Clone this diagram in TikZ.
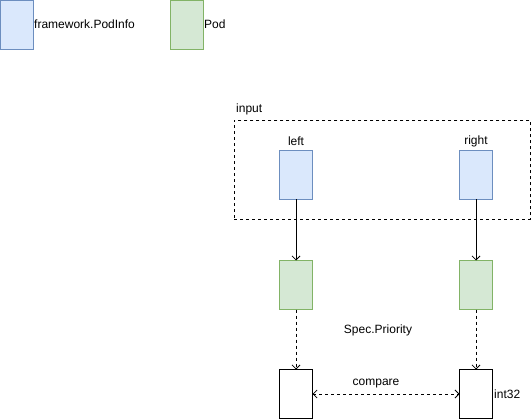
\documentclass[tikz,border=0pt]{standalone}
\usepackage{fontspec}
\setmainfont{Liberation Sans}
\usetikzlibrary{arrows.meta}
\definecolor{bluefill}{HTML}{DAE8FC}
\definecolor{blueline}{HTML}{6C8EBF}
\definecolor{greenfill}{HTML}{D5E8D4}
\definecolor{greenline}{HTML}{82B366}
\begin{document}
\begin{tikzpicture}[x=1pt,y=-1pt,
  font=\fontsize{12}{14}\selectfont,
  box/.style={draw, line width=1pt, minimum width=33pt, minimum height=49pt, inner sep=0pt, outer sep=0pt, anchor=north west},
  bluebox/.style={box, draw=blueline, fill=bluefill},
  greenbox/.style={box, draw=greenline, fill=greenfill},
  whitebox/.style={box, draw=black, fill=white},
  lbl/.style={inner sep=0pt, text=black},
  conn/.style={draw=black, line width=0.8pt, -{Straight Barb[length=4pt,width=8pt]}},
  dconn/.style={conn, dash pattern=on 3pt off 3pt}
]
\useasboundingbox (0,0) rectangle (532,419);
% legend
\node[bluebox] (lb) at (0.5,0.5) {};
\node[lbl, anchor=west] (lbt) at (34,24) {framework.PodInfo};
\node[greenbox] (lg) at (170.5,0.5) {};
\node[lbl, anchor=west] (lgt) at (204,24) {Pod};
% input group
\node[draw=black, line width=0.8pt, dash pattern=on 3pt off 3pt, minimum width=296pt, minimum height=99pt, inner sep=0pt, anchor=north west] (inp) at (234,120) {};
\node[lbl, anchor=west] (inpt) at (236,109) {input};
% boxes
\node[bluebox] (bl) at (279.5,150.5) {};
\node[bluebox] (br) at (459.5,150.5) {};
\node[lbl] (blt) at (296,141) {left};
\node[lbl] (brt) at (476,141) {right};
\node[greenbox] (gl) at (279.5,260.5) {};
\node[greenbox] (gr) at (459.5,260.5) {};
\node[whitebox] (wl) at (279.5,369.5) {};
\node[whitebox] (wr) at (459.5,369.5) {};
\node[lbl] (sp) at (378,330) {Spec.Priority};
\node[lbl] (cmp) at (376,384) {compare};
\node[lbl, anchor=west] (i32) at (494,394) {int32};
% connectors
\draw[conn] (bl.south) -- (gl.north);
\draw[conn] (br.south) -- (gr.north);
\draw[dconn] (gl.south) -- (wl.north);
\draw[dconn] (gr.south) -- (wr.north);
\draw[dconn, {Straight Barb[length=4pt,width=8pt]}-{Straight Barb[length=4pt,width=8pt]}] (wl.east |- 0,394) -- (wr.west |- 0,394);
\end{tikzpicture}
\end{document}
